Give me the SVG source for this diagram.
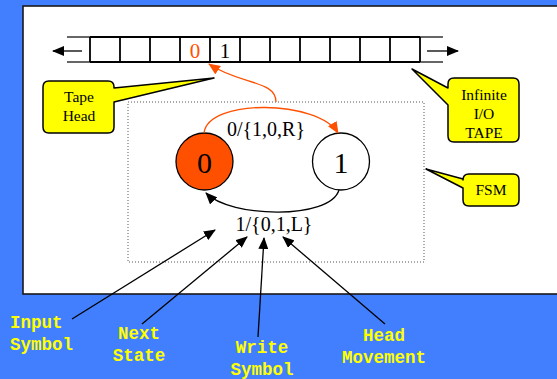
<svg xmlns="http://www.w3.org/2000/svg" width="557" height="379" viewBox="0 0 557 379">
<style>
.serif{font-family:"Liberation Serif","Times New Roman",serif;fill:#000}
.lbl{font-family:"Liberation Mono","Courier New",monospace;font-weight:bold;font-size:17.5px;fill:#FFFF00}
.call{fill:#FFFF00;stroke:#000;stroke-width:1.5;stroke-linejoin:round}
.cell{fill:none;stroke:#000;stroke-width:1.8}
.blk{fill:none;stroke:#000;stroke-width:1.3}
.org{fill:none;stroke:#FF5000;stroke-width:1.3}
</style>
<defs>
<marker id="ab" markerUnits="userSpaceOnUse" markerWidth="12" markerHeight="10" refX="11" refY="5" orient="auto">
<path d="M0,0 L12,5 L0,10 Z" fill="#000"/>
</marker>
<marker id="ao" markerUnits="userSpaceOnUse" markerWidth="12" markerHeight="10" refX="11" refY="5" orient="auto">
<path d="M0,0 L12,5 L0,10 Z" fill="#FF5000"/>
</marker>
</defs>
<rect x="0" y="0" width="557" height="379" fill="#417FFF"/>
<rect x="23" y="6" width="545" height="288" fill="#fff" stroke="#1a1a1a" stroke-width="1.6"/>

<g id="tape">
<line x1="67" y1="37" x2="443" y2="37" stroke="#333" stroke-width="1.5"/>
<line x1="67" y1="62" x2="443" y2="62" stroke="#333" stroke-width="1.5"/>
<path class="cell" d="M90,37V62M120,37V62M150,37V62M180,37V62M210,37V62M240,37V62M270,37V62M300,37V62M330,37V62M360,37V62M390,37V62M420,37V62M90,37H420M90,62H420"/>
<text class="serif" x="195" y="58" font-size="21" text-anchor="middle" style="fill:#FF5000">0</text>
<text class="serif" x="225" y="58" font-size="21" text-anchor="middle">1</text>
</g>

<g id="tape-head">
<path class="call" d="M49,81H108Q114,81 114,87V88L214,78L114,102V127Q114,133 108,133H49Q43,133 43,127V87Q43,81 49,81Z"/>
<text class="serif" font-size="15.5" text-anchor="middle"><tspan x="79" y="102">Tape</tspan><tspan x="79" y="121">Head</tspan></text>
</g>

<g id="infinite-tape">
<path class="call" d="M454,78H513Q519,78 519,84V136Q519,142 513,142H454Q448,142 448,136V105L412,69L448,88V84Q448,78 454,78Z"/>
<text class="serif" font-size="15.5" text-anchor="middle"><tspan x="484" y="100">Infinite</tspan><tspan x="484" y="119">I/O</tspan><tspan x="484" y="138">TAPE</tspan></text>
</g>

<g id="fsm-callout">
<path class="call" d="M469,174H513Q519,174 519,180V200Q519,206 513,206H469Q463,206 463,200V188L426,169L463,179V180Q463,174 469,174Z"/>
<text class="serif" x="491" y="195" font-size="15.5" text-anchor="middle">FSM</text>
</g>

<g id="fsm">
<rect x="128" y="102" width="296" height="160" fill="none" stroke="#555" stroke-width="1" stroke-dasharray="1,2"/>
</g>

<g id="state0">
<circle cx="204.5" cy="161.5" r="28.5" fill="#FF5000" stroke="#000" stroke-width="1.3"/>
<text class="serif" x="204.5" y="172.5" font-size="30" text-anchor="middle">0</text>
</g>

<g id="state1">
<circle cx="341" cy="161.5" r="28.5" fill="#fff" stroke="#000" stroke-width="1.3"/>
<text class="serif" x="341" y="172.5" font-size="30" text-anchor="middle">1</text>
</g>

<g id="connectors">
<line x1="82" y1="51" x2="53" y2="51" class="blk" marker-end="url(#ab)"/>
<line x1="427" y1="51" x2="458" y2="51" class="blk" marker-end="url(#ab)"/>
<path class="org" d="M204,133C208,98 318,100 338,133" marker-end="url(#ao)"/>
<path class="org" d="M276,102C276,80 240,85 209,64" marker-end="url(#ao)"/>
<path class="blk" d="M339,190C330,220 230,218 206,193" marker-end="url(#ab)"/>
<line x1="72" y1="319" x2="215" y2="230" class="blk" marker-end="url(#ab)"/>
<line x1="142" y1="324" x2="247" y2="237" class="blk" marker-end="url(#ab)"/>
<line x1="258" y1="337" x2="264" y2="238" class="blk" marker-end="url(#ab)"/>
<line x1="385" y1="324" x2="283" y2="237" class="blk" marker-end="url(#ab)"/>
</g>

<g id="edge-labels">
<text class="serif" x="266" y="136" font-size="20" text-anchor="middle">0/{1,0,R}</text>
<text class="serif" x="274" y="231" font-size="20" text-anchor="middle">1/{0,1,L}</text>
</g>

<g id="bottom-labels">
<text class="lbl"><tspan x="10" y="328">Input</tspan><tspan x="10" y="350">Symbol</tspan></text>
<text class="lbl" text-anchor="middle"><tspan x="139" y="339">Next</tspan><tspan x="139" y="361">State</tspan></text>
<text class="lbl" text-anchor="middle"><tspan x="262" y="353">Write</tspan><tspan x="262" y="375">Symbol</tspan></text>
<text class="lbl" text-anchor="middle"><tspan x="384" y="341">Head</tspan><tspan x="384" y="363">Movement</tspan></text>
</g>
</svg>
